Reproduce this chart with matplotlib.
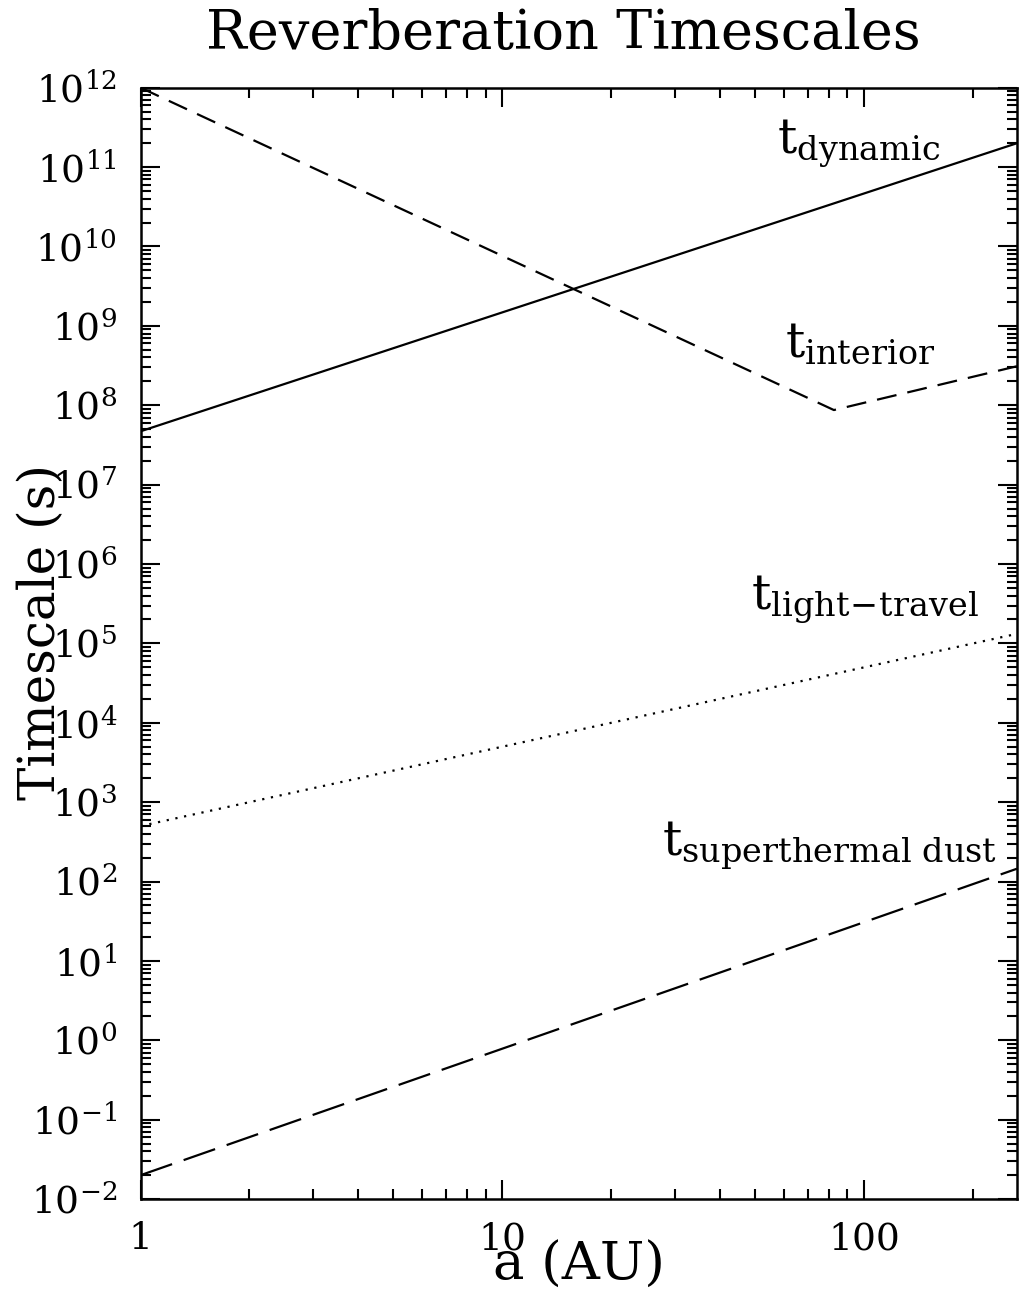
import matplotlib
matplotlib.use("Agg")
import matplotlib.pyplot as plt
from matplotlib.ticker import LogLocator, NullFormatter, FixedLocator

plt.rcParams['font.family'] = ['DejaVu Serif']
plt.rcParams['mathtext.fontset'] = 'dejavuserif'

# Data
a_dynamic = [1, 265]
t_dynamic = [4.7e7, 2.0e11]
a_interior = [1, 82.6, 265]
t_interior = [1.0e12, 8.7e7, 3.1e8]
a_light = [1, 265]
t_light = [5.0e2, 1.32e5]
a_dust = [1, 265]
t_dust = [2.0e-2, 1.45e2]

x_ticks = [1, 10, 100]
x_ticklabels = ["1", "10", "100"]
y_ticks = [10.0**k for k in range(-2, 13)]
y_ticklabels = [r"$10^{%d}$" % k for k in range(-2, 13)]

fig = plt.figure(figsize=(10.19, 12.90), dpi=100)
ax = fig.add_axes([0.138, 0.0705, 0.860, 0.8615])

lw = 1.6
ax.plot(a_dynamic, t_dynamic, color='black', lw=lw, ls='-')
ax.plot(a_interior, t_interior, color='black', lw=lw, ls=(0, (9, 5)))
ax.plot(a_light, t_light, color='black', lw=lw, ls=(0, (1, 3)))
ax.plot(a_dust, t_dust, color='black', lw=lw, ls=(0, (15, 5.5)))

ax.set_xscale('log')
ax.set_yscale('log')
ax.set_xlim(1, 265)
ax.set_ylim(1e-2, 1e12)

ax.xaxis.set_major_locator(FixedLocator(x_ticks))
ax.set_xticklabels(x_ticklabels)
ax.xaxis.set_minor_locator(LogLocator(base=10, subs=range(2, 10), numticks=20))
ax.xaxis.set_minor_formatter(NullFormatter())
ax.yaxis.set_major_locator(FixedLocator(y_ticks))
ax.set_yticklabels(y_ticklabels)
ax.yaxis.set_minor_locator(LogLocator(base=10, subs=range(2, 10), numticks=40))
ax.yaxis.set_minor_formatter(NullFormatter())

ax.tick_params(which='both', direction='in', top=True, right=True, width=1.5)
ax.tick_params(which='major', length=14, labelsize=27)
ax.tick_params(axis='y', which='major', pad=17)
ax.tick_params(axis='x', which='major', pad=16)
ax.tick_params(which='minor', length=7)
for s in ax.spines.values():
    s.set_linewidth(1.8)

ax.set_title("Reverberation Timescales", fontsize=39, pad=28, x=0.482)
ax.set_xlabel("a (AU)", fontsize=38)
ax.set_ylabel("Timescale (s)", fontsize=36)
ax.yaxis.set_label_coords(-0.085, 0.510)
ax.xaxis.set_label_coords(0.50, -0.037)

lab = dict(fontsize=34.5, color='black', ha='left', va='center', transform=ax.transAxes)
ax.text(0.726, 0.950, r"$\mathrm{t}_{\mathrm{dynamic}}$", **lab)
ax.text(0.735, 0.770, r"$\mathrm{t}_{\mathrm{interior}}$", **lab)
ax.text(0.697, 0.540, r"$\mathrm{t}_{\mathrm{light\!-\!travel}}$", **lab)
ax.text(0.595, 0.318, r"$\mathrm{t}_{\mathrm{superthermal\ dust}}$", **lab)

fig.savefig("out.png", dpi=100)
